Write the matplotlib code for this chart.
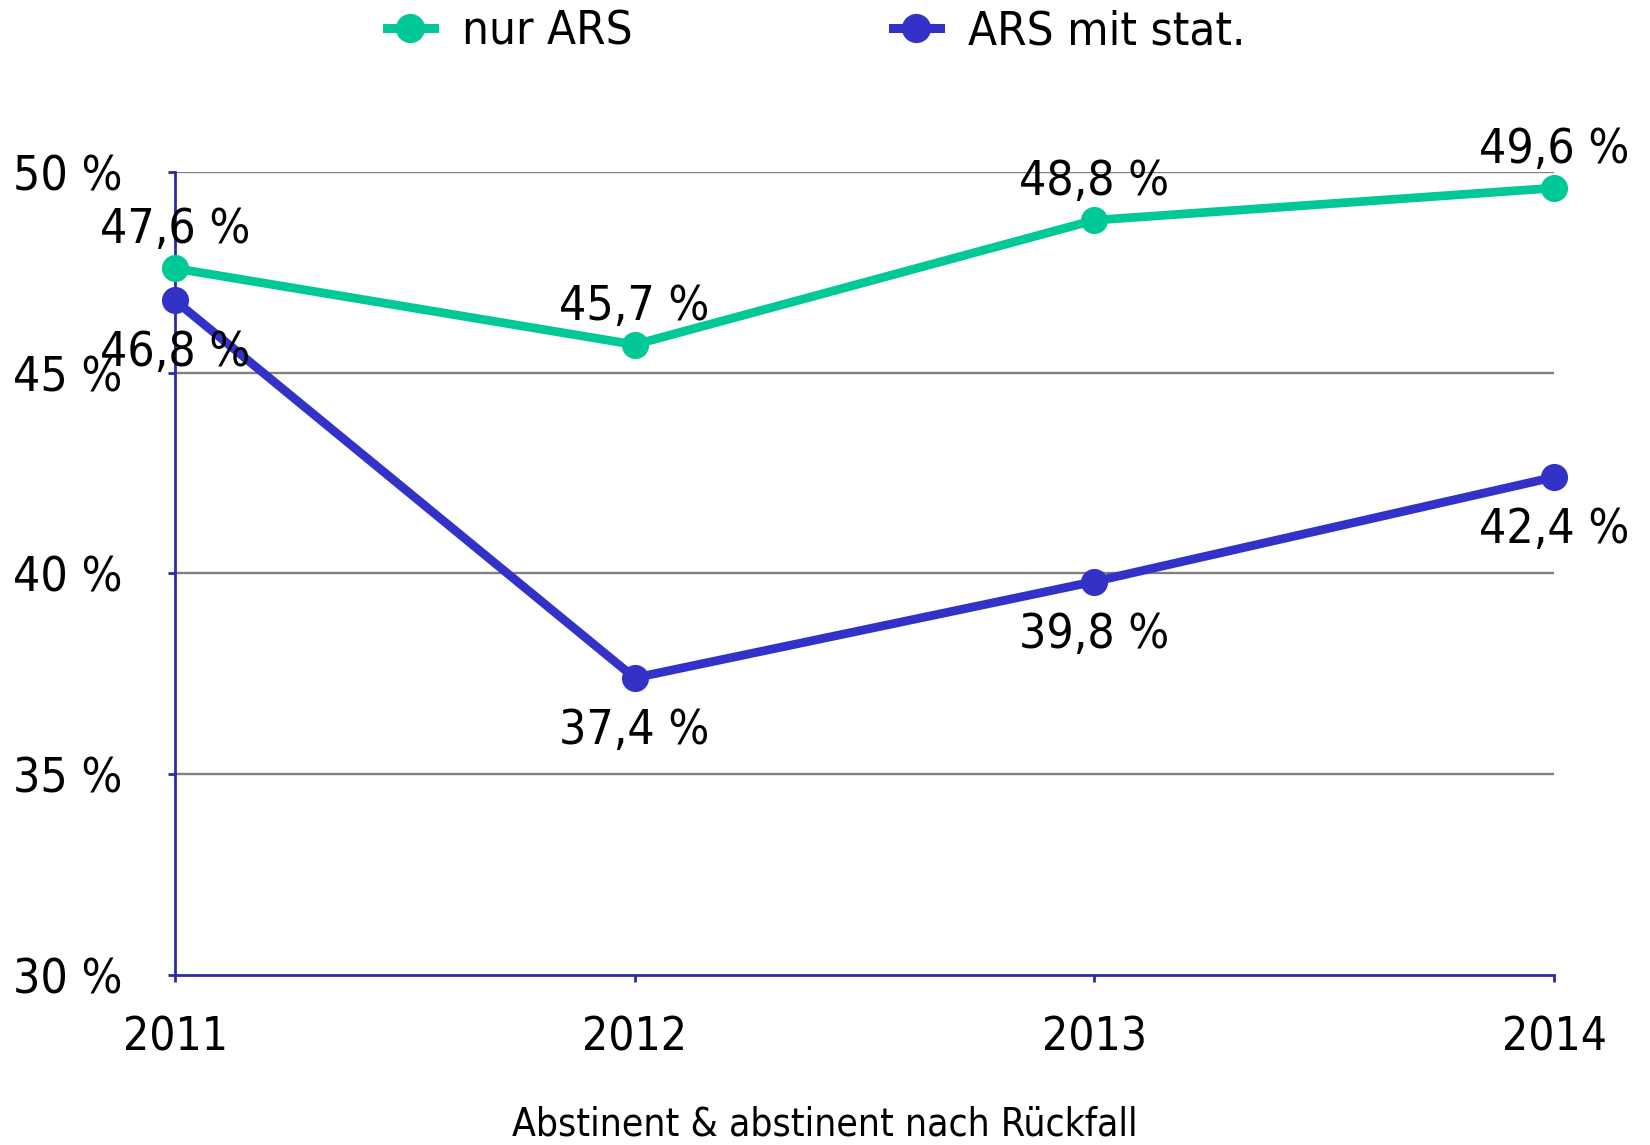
import matplotlib
matplotlib.use("Agg")
import matplotlib.pyplot as plt
from matplotlib.lines import Line2D

years = ["2011", "2012", "2013", "2014"]
nur_ars = [47.6, 45.7, 48.8, 49.6]
ars_stat = [46.8, 37.4, 39.8, 42.4]
series_names = ["nur ARS", "ARS mit stat."]
y_ticks = [30, 35, 40, 45, 50]
y_tick_labels = ["30 %", "35 %", "40 %", "45 %", "50 %"]
x_title = "Abstinent & abstinent nach Rückfall"

GREEN = "#00C896"
BLUE = "#3232C8"
SPINE = "#2B2BA0"
GRID = "#808080"

plt.rcParams['font.family'] = ['DejaVu Sans']
plt.rcParams['font.stretch'] = 'condensed'

fig = plt.figure(figsize=(16.5, 11.45), dpi=100)
ax = fig.add_axes([175/1650, 1 - 975/1145, (1554 - 175)/1650, (975 - 172)/1145])

x = list(range(len(years)))
ax.plot(x, nur_ars, color=GREEN, lw=6.3, marker='o', ms=18.5, zorder=4, clip_on=False)
ax.plot(x, ars_stat, color=BLUE, lw=6.3, marker='o', ms=18.5, zorder=5, clip_on=False)

def fmt(v):
    return f"{v:.1f} %".replace(".", ",")

for xi, v in zip(x, nur_ars):
    ax.annotate(fmt(v), (xi, v), xytext=(0, 18), textcoords='offset points',
                ha='center', va='baseline', fontsize=34.5, color='black', zorder=6,
                annotation_clip=False)
for xi, v in zip(x, ars_stat):
    ax.annotate(fmt(v), (xi, v), xytext=(0, -47.5), textcoords='offset points',
                ha='center', va='baseline', fontsize=34.5, color='black', zorder=6,
                annotation_clip=False)

ax.set_xlim(0, len(years) - 1)
ax.set_ylim(30, 50)
ax.set_xticks(x)
ax.set_xticklabels(years, fontsize=33)
ax.set_yticks(y_ticks)
ax.set_yticklabels(y_tick_labels, fontsize=34.5)

for yv in y_ticks[1:]:
    ax.axhline(yv, color=GRID, lw=1.7, zorder=1)

for s in ['top', 'right']:
    ax.spines[s].set_visible(False)
for s in ['left', 'bottom']:
    ax.spines[s].set_color(SPINE)
    ax.spines[s].set_linewidth(2)
    ax.spines[s].set_zorder(3)

ax.tick_params(axis='y', direction='out', length=5, width=2, color=SPINE, pad=33)
ax.tick_params(axis='x', direction='out', length=5, width=2, color=SPINE, pad=24)

handles = [Line2D([], [], color=GREEN, lw=6.5, marker='o', ms=20),
           Line2D([], [], color=BLUE, lw=6.5, marker='o', ms=20)]
fig.legend(handles, series_names, loc='center', bbox_to_anchor=(0.4946, 0.972),
           ncol=2, frameon=False, fontsize=34, handlelength=1.0,
           handletextpad=0.6, columnspacing=5.5, borderpad=0.1)

fig.text(0.5, 0.018, x_title, ha='center', va='center', fontsize=28)

fig.savefig("out.png", dpi=100)
